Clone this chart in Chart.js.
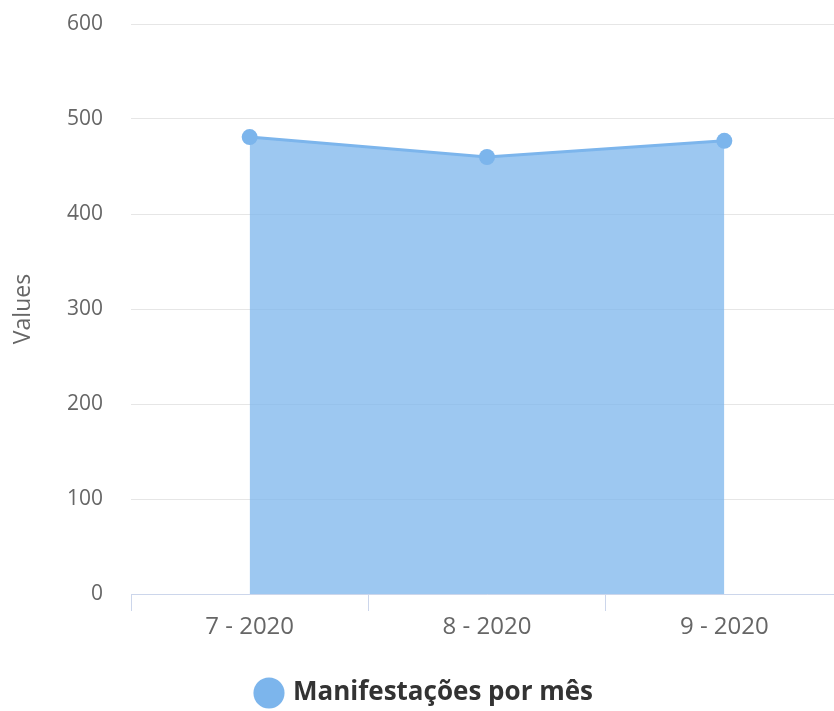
<!DOCTYPE html>
<html>
<head>
<meta charset="utf-8">
<script src="https://cdn.jsdelivr.net/npm/chart.js@4/dist/chart.umd.min.js"></script>
<style>
  html, body { margin: 0; padding: 0; background: #fff; overflow: hidden; }
  #wrap { width: 851px; height: 711px; }
</style>
</head>
<body>
<div id="wrap"><canvas id="myChart" width="851" height="711"></canvas></div>
<script>
var months = ['7 - 2020', '8 - 2020', '9 - 2020']
var manifestacoes = [481, 460, 477]
var seriesName = 'Manifestações por mês'

var ctx = document.getElementById('myChart').getContext('2d')
var chart = new Chart(ctx, {
    type: 'line',
    data: {
        labels: months,
        datasets: [{
            label: seriesName,
            data: manifestacoes,
            borderColor: '#7cb5ec',
            backgroundColor: 'rgba(124,181,236,0.75)',
            pointBackgroundColor: '#7cb5ec',
            pointBorderColor: '#7cb5ec',
            borderWidth: 3,
            pointRadius: 8,
            pointBorderWidth: 0,
            fill: 'origin',
            tension: 0
        }]
    },
    options: {
        responsive: false,
        animation: false,
        layout: { padding: { top: 24, left: 0, right: 0, bottom: -5 } },
        scales: {
            x: {
                offset: true,
                afterFit: function (s) { s.height = 82 },
                grid: { drawOnChartArea: false, color: '#ccd6eb', tickLength: 17, offset: true },
                border: { color: '#ccd6eb', width: 1 },
                ticks: { color: '#666', font: { family: 'Open Sans', size: 24 }, padding: 2 }
            },
            y: {
                min: 0,
                max: 600,
                afterFit: function (s) { s.width = 131 },
                grid: { color: '#e6e6e6', tickColor: 'rgba(0,0,0,0)', tickLength: 24 },
                border: { display: false },
                ticks: { stepSize: 100, color: '#666', font: { family: 'Open Sans', size: 21 }, padding: 4 },
                title: { display: true, text: 'Values', color: '#666', font: { family: 'Open Sans', size: 23 }, padding: { top: 10, bottom: 0 } }
            }
        },
        plugins: {
            tooltip: { enabled: false },
            legend: {
                position: 'bottom',
                labels: {
                    usePointStyle: true,
                    pointStyle: 'circle',
                    boxWidth: 22,
                    boxHeight: 22,
                    color: '#333',
                    font: { family: 'Open Sans', size: 26, weight: 'bold' },
                    padding: 4
                }
            }
        }
    }
})
</script>
</body>
</html>
